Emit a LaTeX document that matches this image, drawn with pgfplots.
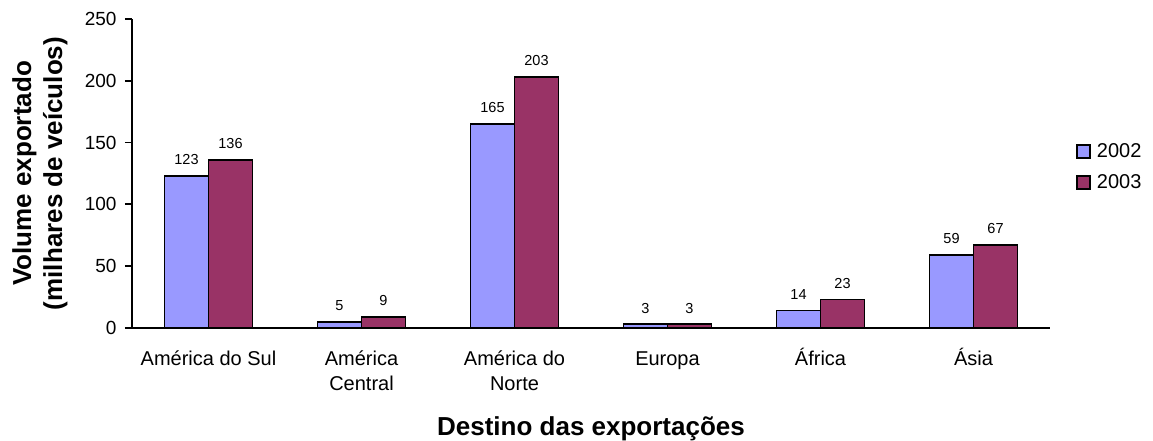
\documentclass[border=0pt]{standalone}
\usepackage{pgfplots}
\pgfplotsset{compat=1.18}
\usepackage{fontspec}
\setmainfont{Liberation Sans}
\definecolor{cblue}{HTML}{9999FF}
\definecolor{cred}{HTML}{993366}
\newcommand{\sx}{\rule{0pt}{19pt}}
\begin{document}
\begin{tikzpicture}
\path[use as bounding box] (-132pt,-113pt) rectangle (1021pt,328pt);
\begin{axis}[
  at={(0pt,0pt)}, anchor=south west,
  scale only axis, width=918pt, height=309pt,
  /pgf/number format/assume math mode=true,
  ymin=0, ymax=250, ytick={0,50,...,250},
  xmin=-0.5, xmax=5.5, xtick={0,...,5},
  xticklabels={\sx América do Sul, \sx América\\Central, \sx América do\\Norte, \sx Europa, \sx África, \sx Ásia},
  axis x line=bottom, axis y line=left,
  axis line style={-, line width=1.8pt},
  tick align=outside, major tick length=7pt,
  ytick style={black, line width=1.8pt},
  xtick style={draw=none},
  yticklabel style={font=\fontsize{19}{22}\selectfont, xshift=-5pt},
  xticklabel style={font=\fontsize{20}{25}\selectfont, align=center, anchor=north, yshift=-8pt},
  every axis y label/.style={at={(axis description cs:0,0.5)}, anchor=center, xshift=-92pt, rotate=90, align=center, font=\bfseries\fontsize{26}{31}\selectfont},
  ylabel={Volume exportado\\(milhares de veículos)},
  every axis x label/.style={at={(axis description cs:0.5,0)}, anchor=center, yshift=-101pt, font=\bfseries\fontsize{26}{30}\selectfont},
  xlabel={Destino das exportações},
  ybar=0pt, bar width=44pt,
  nodes near coords,
  every node near coord/.append style={font=\fontsize{14.5}{17}\selectfont, yshift=7pt, black},
  legend style={at={(axis description cs:1.025,0.521)}, anchor=west, draw=none, fill=none,
    font=\fontsize{20}{23}\selectfont, row sep=12pt},
  legend cell align=left,
  legend image code/.code={\path[draw=none,fill=none] (0pt,0pt) -- (18pt,0pt); \draw[#1,line width=1.6pt] (0pt,-6.5pt) rectangle (13pt,6.5pt);},
]
\addplot[fill=cblue, draw=black, line width=1.6pt] coordinates {(0,123) (1,5) (2,165) (3,3) (4,14) (5,59)};
\addplot[fill=cred, draw=black, line width=1.6pt] coordinates {(0,136) (1,9) (2,203) (3,3) (4,23) (5,67)};
\legend{2002,2003}
\end{axis}
\end{tikzpicture}
\end{document}
